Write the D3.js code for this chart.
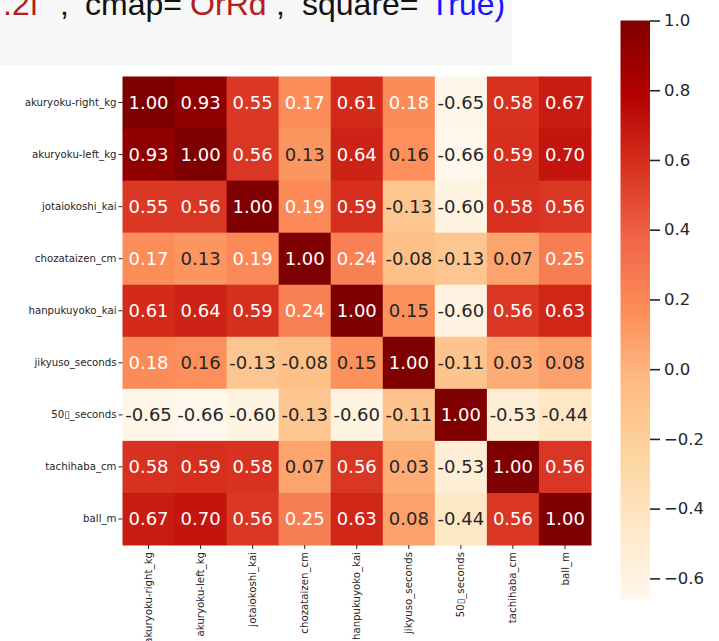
<!DOCTYPE html>
<html>
<head>
<meta charset="utf-8">
<script src="https://cdn.jsdelivr.net/npm/d3@7"></script>
<style>
  html, body { margin: 0; padding: 0; background: #fff; }
  svg { display: block; }
</style>
</head>
<body>
<svg id="chart" width="719" height="641"></svg>
<script>
// Variable names of the fitness-test measurements (rows and columns)
const labels = [
  "akuryoku-right_kg", "akuryoku-left_kg", "jotaiokoshi_kai", "chozataizen_cm",
  "hanpukuyoko_kai", "jikyuso_seconds", "50\u25AF_seconds", "tachihaba_cm", "ball_m"
];

// Correlation matrix, one row per variable
const corrAkuryokuRight = [1.00, 0.93, 0.55, 0.17, 0.61, 0.18, -0.65, 0.58, 0.67];
const corrAkuryokuLeft  = [0.93, 1.00, 0.56, 0.13, 0.64, 0.16, -0.66, 0.59, 0.70];
const corrJotaiokoshi   = [0.55, 0.56, 1.00, 0.19, 0.59, -0.13, -0.60, 0.58, 0.56];
const corrChozataizen   = [0.17, 0.13, 0.19, 1.00, 0.24, -0.08, -0.13, 0.07, 0.25];
const corrHanpukuyoko   = [0.61, 0.64, 0.59, 0.24, 1.00, 0.15, -0.60, 0.56, 0.63];
const corrJikyuso       = [0.18, 0.16, -0.13, -0.08, 0.15, 1.00, -0.11, 0.03, 0.08];
const corr50Sprint      = [-0.65, -0.66, -0.60, -0.13, -0.60, -0.11, 1.00, -0.53, -0.44];
const corrTachihaba     = [0.58, 0.59, 0.58, 0.07, 0.56, 0.03, -0.53, 1.00, 0.56];
const corrBall          = [0.67, 0.70, 0.56, 0.25, 0.63, 0.08, -0.44, 0.56, 1.00];

const rows = [corrAkuryokuRight, corrAkuryokuLeft, corrJotaiokoshi, corrChozataizen,
  corrHanpukuyoko, corrJikyuso, corr50Sprint, corrTachihaba, corrBall];

// Colour-bar tick values
const colorbarTicks = [-0.6, -0.4, -0.2, 0.0, 0.2, 0.4, 0.6, 0.8, 1.0];

// Tail of the plotting call shown above the figure (token text and syntax colour)
const codeTokens = ["'.2f'", ",", "cmap=", "'OrRd'", ",", "square=", "True)"];
const codeColors = ["#b0201c", "#111111", "#111111", "#b0201c", "#111111", "#111111", "#1515ff"];
const codeX = [-3, 60, 85, 184, 276, 302, 430];

const svg = d3.select("#chart");

// ---- code snippet strip ----
svg.append("rect").attr("x", 0).attr("y", 0).attr("width", 512).attr("height", 65)
  .attr("fill", "#f7f7f7");
svg.append("g").selectAll("text").data(codeTokens).join("text")
  .attr("x", (d, i) => codeX[i])
  .attr("y", 15)
  .attr("font-family", "Liberation Sans, Arial, sans-serif")
  .attr("font-size", 32)
  .attr("fill", (d, i) => codeColors[i])
  .text(d => d);

// ---- heatmap ----
const vmin = d3.min(rows, r => d3.min(r));
const vmax = d3.max(rows, r => d3.max(r));

// matplotlib-style OrRd: piecewise-linear through the nine ColorBrewer anchors
const anchors = d3.schemeOrRd[9];
const color = d3.scaleLinear()
  .domain(anchors.map((_, i) => vmin + (vmax - vmin) * i / (anchors.length - 1)))
  .range(anchors)
  .interpolate(d3.interpolateRgb)
  .clamp(true);

const gridLeft = 122.5, gridTop = 76.5, gridSize = 468.5;
const x = d3.scaleBand().domain(labels).range([gridLeft, gridLeft + gridSize]);
const y = d3.scaleBand().domain(labels).range([gridTop, gridTop + gridSize]);

const cells = [];
rows.forEach((r, i) => r.forEach((v, j) => cells.push({ row: labels[i], col: labels[j], v })));

function luminance(c) {
  const rgb = d3.rgb(c);
  const lin = ch => {
    const s = ch / 255;
    return s <= 0.03928 ? s / 12.92 : Math.pow((s + 0.055) / 1.055, 2.4);
  };
  return 0.2126 * lin(rgb.r) + 0.7152 * lin(rgb.g) + 0.0722 * lin(rgb.b);
}

const g = svg.append("g");
g.selectAll("rect.cell").data(cells).join("rect")
  .attr("class", "cell")
  .attr("x", d => x(d.col))
  .attr("y", d => y(d.row))
  .attr("width", x.bandwidth() + 0.5)
  .attr("height", y.bandwidth() + 0.5)
  .attr("fill", d => color(d.v));

g.selectAll("text.annot").data(cells).join("text")
  .attr("class", "annot")
  .attr("x", d => x(d.col) + x.bandwidth() / 2)
  .attr("y", d => y(d.row) + y.bandwidth() / 2)
  .attr("dy", "0.36em")
  .attr("text-anchor", "middle")
  .attr("font-family", "DejaVu Sans, sans-serif")
  .attr("font-size", 18)
  .attr("fill", d => luminance(color(d.v)) > 0.408 ? "#262626" : "#ffffff")
  .text(d => d3.format(".2f")(d.v).replace("\u2212", "-"));

// Axes
const yAxis = svg.append("g")
  .attr("transform", `translate(${gridLeft},0)`)
  .call(d3.axisLeft(y).tickSize(4).tickPadding(2));
yAxis.select(".domain").remove();
yAxis.selectAll("text")
  .attr("font-family", "DejaVu Sans, sans-serif").attr("font-size", 10.2).attr("fill", "#262626");
yAxis.selectAll("line").attr("stroke", "#262626");

const xAxis = svg.append("g")
  .attr("transform", `translate(0,${gridTop + gridSize})`)
  .call(d3.axisBottom(x).tickSize(4).tickPadding(2));
xAxis.select(".domain").remove();
xAxis.selectAll("line").attr("stroke", "#262626");
xAxis.selectAll("text")
  .attr("font-family", "DejaVu Sans, sans-serif").attr("font-size", 10.2).attr("fill", "#262626")
  .attr("transform", "rotate(-90)")
  .attr("text-anchor", "end")
  .attr("x", -7).attr("y", 0).attr("dy", "0.35em");

// ---- colour bar ----
const cbLeft = 620.5, cbWidth = 29.5, cbTop = 20.5, cbBottom = 599.3;
const cbScale = d3.scaleLinear().domain([vmin, vmax]).range([cbBottom, cbTop]);

const defs = svg.append("defs");
const grad = defs.append("linearGradient").attr("id", "cbGrad")
  .attr("x1", 0).attr("y1", 1).attr("x2", 0).attr("y2", 0);
grad.selectAll("stop").data(color.domain()).join("stop")
  .attr("offset", d => (d - vmin) / (vmax - vmin))
  .attr("stop-color", d => color(d));

svg.append("rect")
  .attr("x", cbLeft).attr("y", cbTop)
  .attr("width", cbWidth).attr("height", cbBottom - cbTop)
  .attr("fill", "url(#cbGrad)");

const cbAxis = svg.append("g")
  .attr("transform", `translate(${cbLeft + cbWidth},0)`)
  .call(d3.axisRight(cbScale).tickValues(colorbarTicks).tickSize(10).tickPadding(4)
    .tickFormat(d3.format(".1f")));
cbAxis.select(".domain").remove();
cbAxis.selectAll("line").attr("stroke", "#262626").attr("stroke-width", 1.6);
cbAxis.selectAll("text")
  .attr("font-family", "DejaVu Sans, sans-serif").attr("font-size", 16.5).attr("fill", "#262626");
</script>
</body>
</html>
